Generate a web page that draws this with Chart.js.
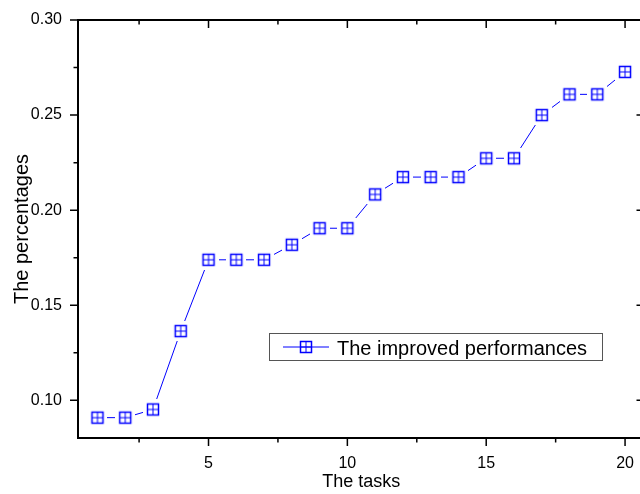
<!DOCTYPE html>
<html>
<head>
<meta charset="utf-8">
<script src="https://cdn.jsdelivr.net/npm/chart.js@4"></script>
<style>
  html, body { margin: 0; padding: 0; background: #fff; }
  #wrap { width: 640px; height: 494px; overflow: hidden; }
</style>
</head>
<body>
<div id="wrap"><canvas id="chart" width="656" height="494"></canvas></div>
<script>
const taskNumbers = [1, 2, 3, 4, 5, 6, 7, 8, 9, 10, 11, 12, 13, 14, 15, 16, 17, 18, 19, 20];
const improvedPerf = [0.0909, 0.0909, 0.0952, 0.1364, 0.1739, 0.1739, 0.1739, 0.1818, 0.1905, 0.1905,
                      0.2083, 0.2174, 0.2174, 0.2174, 0.2273, 0.2273, 0.2500, 0.2609, 0.2609, 0.2727];
const xTickValues = [5, 10, 15, 20];
const yTickValues = [0.10, 0.15, 0.20, 0.25, 0.30];

const FONT = "'Liberation Sans', Arial, sans-serif";
const BLUE = '#0000ff';

// square with a cross; the white backing leaves a gap in the line around each point
function makeMarker(masked) {
  const c = document.createElement('canvas');
  c.width = 20; c.height = 20;
  const g = c.getContext('2d');
  if (masked) {
    g.fillStyle = '#fff';
    g.fillRect(0, 0, 20, 20);
  }
  g.strokeStyle = BLUE;
  g.lineWidth = 1.5;
  g.strokeRect(4.5, 4.5, 11, 11);
  g.lineWidth = 1;
  g.beginPath();
  g.moveTo(10, 4.5); g.lineTo(10, 15.5);
  g.moveTo(4.5, 10); g.lineTo(15.5, 10);
  g.stroke();
  return c;
}
const pointMarker = makeMarker(true);
const legendMarker = makeMarker(false);

function tickSet(scale, values) {
  scale.ticks = values.map(v => ({ value: v }));
}

// minor ticks halfway between the majors, extended to the axis ends
function minorValues(scale, step) {
  const out = [];
  let v = scale.ticks[0].value - step / 2;
  while (v - step >= scale.min) v -= step;
  while (v < scale.min) v += step;
  for (; v <= scale.max; v += step) out.push(v);
  return out;
}

const framePlugin = {
  id: 'frame',
  afterDraw(chart) {
    const ctx = chart.ctx;
    const a = chart.chartArea;
    const xs = chart.scales.x, ys = chart.scales.y;
    ctx.save();
    ctx.strokeStyle = '#000';
    ctx.lineWidth = 2;
    ctx.strokeRect(a.left, a.top, a.right - a.left, a.bottom - a.top);

    ctx.lineWidth = 1.5;
    const major = 8, minor = 4.5;
    ctx.beginPath();
    xs.ticks.forEach(t => {
      const p = xs.getPixelForValue(t.value);
      ctx.moveTo(p, a.bottom); ctx.lineTo(p, a.bottom + major);
      ctx.moveTo(p, a.top); ctx.lineTo(p, a.top + major);
    });
    minorValues(xs, 5).forEach(v => {
      const p = xs.getPixelForValue(v);
      ctx.moveTo(p, a.bottom); ctx.lineTo(p, a.bottom + minor);
      ctx.moveTo(p, a.top); ctx.lineTo(p, a.top + minor);
    });
    ys.ticks.forEach(t => {
      const p = ys.getPixelForValue(t.value);
      ctx.moveTo(a.left, p); ctx.lineTo(a.left - major, p);
      ctx.moveTo(a.right, p); ctx.lineTo(a.right - major, p);
    });
    minorValues(ys, 0.05).forEach(v => {
      const p = ys.getPixelForValue(v);
      ctx.moveTo(a.left, p); ctx.lineTo(a.left - minor, p);
      ctx.moveTo(a.right, p); ctx.lineTo(a.right - minor, p);
    });
    ctx.stroke();

    // legend box
    const ds = chart.data.datasets[0];
    const bx = 269.5, by = 333.5, bw = 333, bh = 27;
    ctx.fillStyle = '#fff';
    ctx.fillRect(bx, by, bw, bh);
    ctx.strokeStyle = '#555';
    ctx.lineWidth = 1;
    ctx.strokeRect(bx, by, bw, bh);
    const ly = by + bh / 2;
    ctx.strokeStyle = BLUE;
    ctx.beginPath();
    ctx.moveTo(283, ly); ctx.lineTo(329, ly);
    ctx.stroke();
    ctx.drawImage(legendMarker, 306 - 10, Math.round(ly) - 10);
    ctx.fillStyle = '#000';
    ctx.font = '20px ' + FONT;
    ctx.textBaseline = 'alphabetic';
    ctx.textAlign = 'left';
    ctx.fillText(ds.label, 337, 355);
    ctx.restore();
  }
};

new Chart(document.getElementById('chart'), {
  type: 'line',
  data: {
    datasets: [{
      label: 'The improved performances',
      data: taskNumbers.map((t, i) => ({ x: t, y: improvedPerf[i] })),
      borderColor: BLUE,
      borderWidth: 1,
      backgroundColor: BLUE,
      pointStyle: pointMarker,
      pointRadius: 10,
      pointHoverRadius: 10,
      tension: 0,
      clip: false
    }]
  },
  options: {
    responsive: false,
    animation: false,
    devicePixelRatio: 1,
    layout: { padding: { top: 20, right: 11.5, left: 0, bottom: 0 } },
    plugins: { legend: { display: false }, tooltip: { enabled: false } },
    scales: {
      x: {
        type: 'linear',
        min: 0.3,
        max: 20.7,
        afterBuildTicks: s => tickSet(s, xTickValues),
        afterFit: s => { s.height = 56; },
        grid: { display: false },
        border: { display: false },
        ticks: { color: '#000', font: { family: FONT, size: 16 }, padding: 8, maxRotation: 0 },
        title: { display: true, text: 'The tasks', color: '#000', font: { family: FONT, size: 18 }, padding: { top: 0, bottom: 1 } }
      },
      y: {
        type: 'linear',
        min: 0.0802,
        max: 0.30,
        afterBuildTicks: s => tickSet(s, yTickValues),
        afterFit: s => { s.width = 78; },
        grid: { display: false },
        border: { display: false },
        ticks: { color: '#000', font: { family: FONT, size: 16 }, padding: 8, callback: v => v.toFixed(2) },
        title: { display: true, text: 'The percentages', color: '#000', font: { family: FONT, size: 20 }, padding: { top: 10, bottom: 0 } }
      }
    }
  },
  plugins: [framePlugin]
});
</script>
</body>
</html>
